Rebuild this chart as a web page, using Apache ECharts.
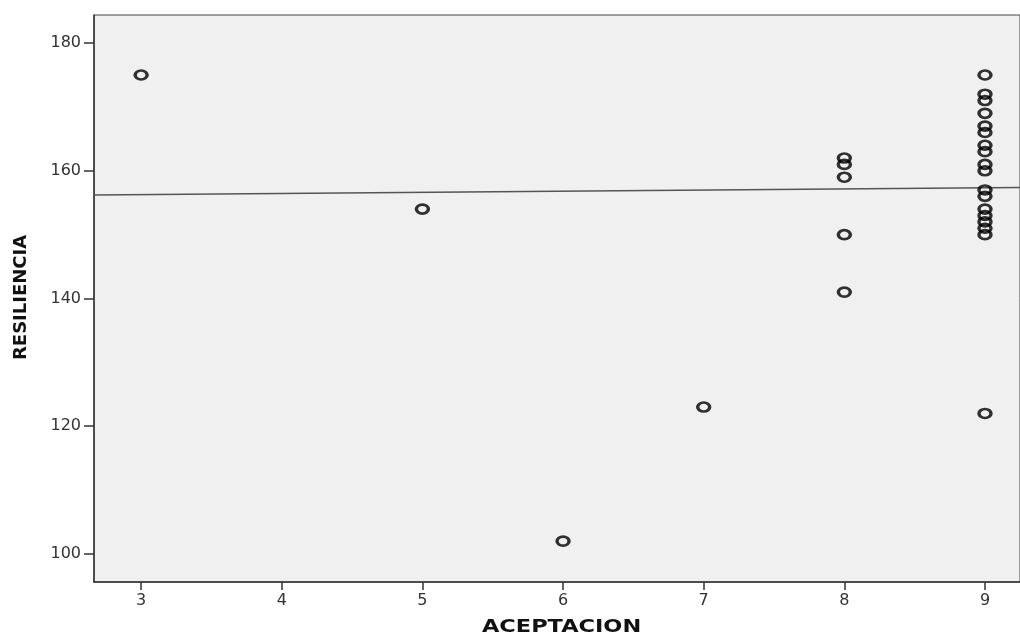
<!DOCTYPE html>
<html>
<head>
<meta charset="utf-8">
<script src="https://cdn.jsdelivr.net/npm/echarts@6/dist/echarts.min.js"></script>
<style>
html,body{margin:0;padding:0;background:#fff;}
#chart{width:1020px;height:639px;}
</style>
</head>
<body>
<div id="chart"></div>
<script>
// Data
var aceptacion = [3, 5, 6, 7,
  8, 8, 8, 8, 8,
  9, 9, 9, 9, 9, 9, 9, 9, 9, 9, 9, 9, 9, 9, 9, 9, 9, 9];
var resiliencia = [175, 154, 102, 123,
  162, 161, 159, 150, 141,
  175, 172, 171, 169, 167, 166, 164, 163, 161, 160, 157, 156, 154, 153, 152, 151, 150, 122];
var xTicks = [3, 4, 5, 6, 7, 8, 9];
var yTicks = [100, 120, 140, 160, 180];
var fitX = [2.665, 9.249];
var fitY = [156.2, 157.4];
var xTitle = 'ACEPTACION';
var yTitle = 'RESILIENCIA';

var points = aceptacion.map(function (x, i) { return [x, resiliencia[i]]; });
var fitLine = fitX.map(function (x, i) { return [x, fitY[i]]; });

var chart = echarts.init(document.getElementById('chart'), null, {renderer: 'canvas'});
var tickFont = {fontFamily: 'DejaVu Sans', fontSize: 16, color: '#333'};

chart.setOption({
  animation: false,
  backgroundColor: '#ffffff',
  grid: {
    left: 94, right: 0, top: 15, bottom: 57,
    show: true, backgroundColor: '#f0f0f0', borderColor: '#444', borderWidth: 1
  },
  xAxis: {
    type: 'value', min: fitX[0], max: fitX[1],
    axisLine: {show: true, onZero: false, lineStyle: {color: '#333', width: 1.5}},
    axisTick: {show: true, customValues: xTicks, length: 8, lineStyle: {color: '#333', width: 1.5}},
    axisLabel: Object.assign({customValues: xTicks, margin: 11}, tickFont),
    splitLine: {show: false}
  },
  yAxis: {
    type: 'value', min: 95.6, max: 184.4,
    axisLine: {show: true, onZero: false, lineStyle: {color: '#333', width: 1.5}},
    axisTick: {show: true, customValues: yTicks, length: 10, lineStyle: {color: '#333', width: 1.5}},
    axisLabel: Object.assign({customValues: yTicks, margin: 13}, tickFont),
    splitLine: {show: false}
  },
  graphic: [
    {
      type: 'text', left: 482, top: 619,
      scaleX: 1.32, originX: 0,
      style: {text: xTitle, font: 'bold 17px "DejaVu Sans"', fill: '#111'}
    },
    {
      type: 'text', x: 12, y: 360, rotation: Math.PI / 2,
      style: {text: yTitle, font: 'bold 18px "DejaVu Sans"', fill: '#111', align: 'left', verticalAlign: 'top'}
    }
  ],
  series: [
    {
      type: 'line', data: fitLine, showSymbol: false, silent: true,
      lineStyle: {color: '#555', width: 1.5}, z: 1
    },
    {
      type: 'scatter', data: points,
      symbol: 'path://M0,4.5A6,4.5,0,1,1,12,4.5A6,4.5,0,1,1,0,4.5Z',
      symbolSize: [12, 9],
      itemStyle: {color: 'rgba(0,0,0,0)', borderColor: '#000', borderWidth: 3},
      z: 3
    }
  ]
});
</script>
</body>
</html>
